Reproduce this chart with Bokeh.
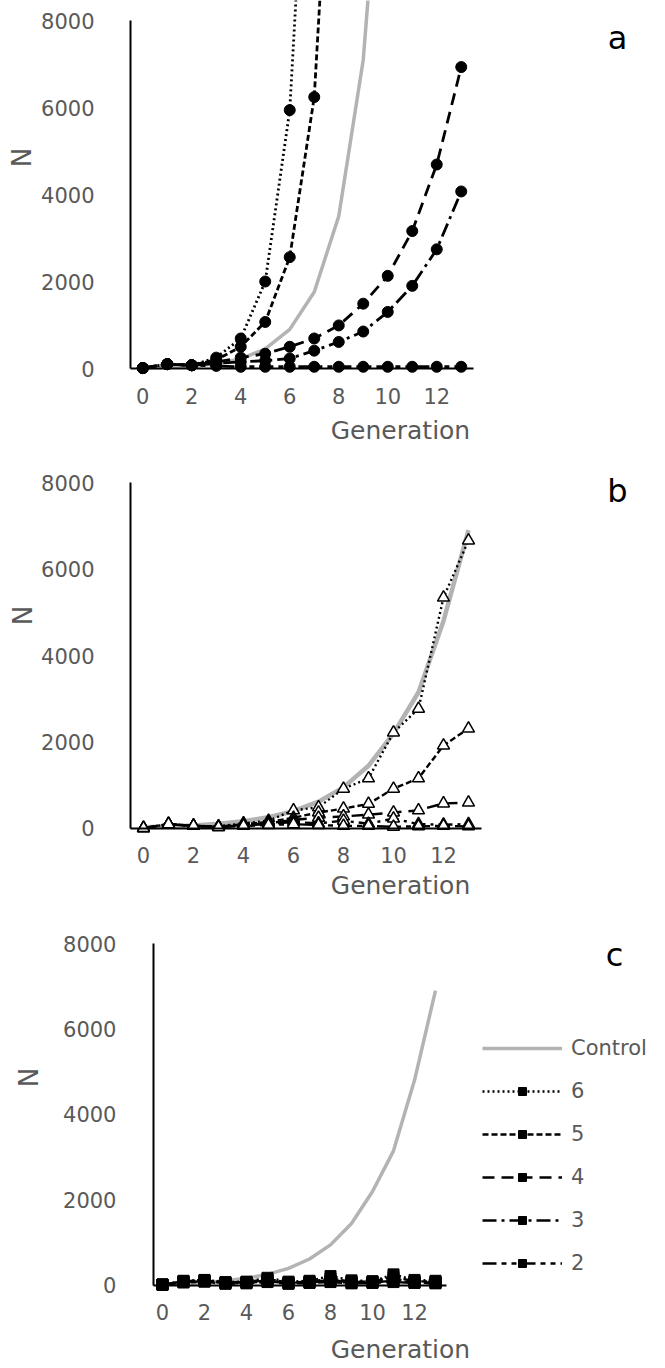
from bokeh.plotting import figure
from bokeh.models import FixedTicker, Label, Legend, LegendItem, Range1d
from bokeh.layouts import column
from bokeh.embed import file_html
from bokeh.resources import INLINE

# ---------------- data ----------------
gens = list(range(14))
y_ticks = [0, 2000, 4000, 6000, 8000]
x_ticks = [0, 2, 4, 6, 8, 10, 12]

# panel a (filled circles)
control_a = [10, 25, 50, 110, 220, 450, 900, 1760, 3500, 7100, 14200]
a6 = [10, 100, 75, 250, 690, 2000, 5940, 16000]
a5 = [10, 100, 75, 200, 500, 1070, 2560, 6240, 16000]
a4 = [10, 100, 75, 150, 250, 340, 500, 690, 990, 1490, 2130, 3160, 4690, 6930]
a3 = [10, 100, 75, 120, 150, 180, 230, 410, 610, 850, 1300, 1900, 2740, 4070]
a2 = [10, 100, 75, 60, 40, 40, 40, 40, 40, 40, 40, 40, 40, 40]

# panel b (open triangles)
control_bc = [30, 45, 70, 110, 170, 260, 400, 620, 950, 1450, 2200, 3150, 4800, 6900]
b6 = [10, 100, 60, 50, 120, 180, 420, 490, 920, 1160, 2220, 2770, 5340, 6660]
b5 = [10, 100, 60, 40, 100, 150, 250, 370, 460, 570, 920, 1160, 1920, 2310]
b4 = [10, 100, 60, 40, 90, 120, 200, 250, 280, 320, 370, 420, 580, 600]
b3 = [10, 100, 60, 40, 80, 100, 150, 120, 180, 110, 230, 100, 90, 100]
b2 = [10, 100, 60, 30, 60, 80, 100, 80, 60, 60, 40, 50, 60, 50]

# panel c (filled squares)
c6 = [20, 110, 130, 80, 90, 180, 90, 110, 220, 120, 100, 260, 130, 110]
c5 = [20, 100, 120, 70, 80, 150, 70, 90, 160, 90, 90, 200, 100, 90]
c4 = [20, 90, 110, 60, 70, 120, 60, 80, 120, 80, 80, 150, 90, 70]
c3 = [20, 80, 100, 50, 60, 100, 50, 70, 100, 60, 70, 110, 70, 60]
c2 = [20, 70, 90, 40, 50, 80, 40, 60, 80, 50, 60, 80, 60, 50]

series_names = ["6", "5", "4", "3", "2"]
dashes = {"6": "2 3", "5": "6 3", "4": "12 7", "3": "14 5 3 5", "2": "14 5 5 5 5 5"}

FONT = "DejaVu Sans"
GRAY = "#595959"
CTRL = "#b3b3b3"
W = 665


def make_fig(h, xr, yr, yaxis_x, sx, sy):
    p = figure(frame_width=W, frame_height=h, min_border=0,
               x_range=Range1d(*xr), y_range=Range1d(*yr),
               output_backend="svg", toolbar_location=None)
    p.grid.visible = False
    p.outline_line_color = None
    p.xaxis.ticker = FixedTicker(ticks=x_ticks)
    p.yaxis.ticker = FixedTicker(ticks=y_ticks)
    p.xaxis.fixed_location = 0
    p.yaxis.fixed_location = yaxis_x
    p.xaxis.bounds = (yaxis_x, 13.5)
    p.yaxis.bounds = (0, 8000)
    for ax in (p.xaxis, p.yaxis):
        ax.major_tick_line_color = None
        ax.minor_tick_line_color = None
        ax.major_label_text_font = FONT
        ax.major_label_text_font_size = "21px"
        ax.major_label_text_color = GRAY
        ax.axis_line_color = "black"
        ax.axis_line_width = 2
    p.xaxis.major_label_standoff = sx
    p.yaxis.major_label_standoff = sy
    return p


def add_texts(p, gx, gy, nx, ny, letter, lx, ly):
    p.add_layout(Label(x=gx, y=gy, text="Generation", text_font=FONT, text_font_size="25px",
                       text_color=GRAY, text_align="center", text_baseline="middle"))
    p.add_layout(Label(x=nx, y=ny, text="N", angle=1.5708, text_font=FONT, text_font_size="26px",
                       text_color=GRAY, text_align="center", text_baseline="middle"))
    p.add_layout(Label(x=lx, y=ly, text=letter, text_font=FONT, text_font_size="32px",
                       text_color="black", text_align="center", text_baseline="middle"))


# ---------------- panel a ----------------
pa = make_fig(450, (-5.806, 21.337), (-1885, 8460), -0.5, 13, 30)
pa.line(gens[:len(control_a)], control_a, line_color=CTRL, line_width=3.5)
for name, ys in zip(series_names, [a6, a5, a4, a3, a2]):
    xs = gens[:len(ys)]
    pa.line(xs, ys, line_color="black", line_width=2.8, line_dash=dashes[name])
    pa.scatter(xs, ys, marker="circle", size=11, fill_color="black", line_color="black")
add_texts(pa, 10.52, -1425, -4.91, 4851, "a", 19.38, 7609)

# ---------------- panel b ----------------
pb = make_fig(460, (-5.72, 20.88), (-1896, 8740), -0.52, 13, 30)
pb.line(gens, control_bc, line_color=CTRL, line_width=4.5)
for name, ys in zip(series_names, [b6, b5, b4, b3, b2]):
    pb.line(gens, ys, line_color="black", line_width=2.4, line_dash=dashes[name])
    pb.scatter(gens, ys, marker="triangle", size=12, fill_color="white", line_color="black", line_width=1.5)
add_texts(pb, 10.28, -1318, -4.84, 4925, "b", 18.96, 7815)

# ---------------- panel c ----------------
pc = make_fig(456, (-7.714, 23.952), (-1895, 8772), -0.43, 13, 31)
ctrl_c = pc.line(gens, control_bc, line_color=CTRL, line_width=3.5)
items = [LegendItem(label="Control", renderers=[ctrl_c])]
for name, ys in zip(series_names, [c6, c5, c4, c3, c2]):
    lr = pc.line(gens, ys, line_color="black", line_width=2.4, line_dash=dashes[name])
    mr = pc.scatter(gens, ys, marker="square", size=11, fill_color="black", line_color="black")
    items.append(LegendItem(label=name, renderers=[lr, mr]))
legend = Legend(items=items, location=(482, 91), glyph_width=80, glyph_height=20,
                spacing=19, label_standoff=9, padding=0, margin=0,
                label_text_font=FONT, label_text_font_size="21px", label_text_color=GRAY,
                border_line_color=None, background_fill_alpha=0)
pc.add_layout(legend)
add_texts(pc, 11.33, -1497, -6.38, 4865, "c", 21.52, 7720)

layout = column(pa, pb, pc, spacing=0)
open("out.html", "w").write(file_html(layout, INLINE))
